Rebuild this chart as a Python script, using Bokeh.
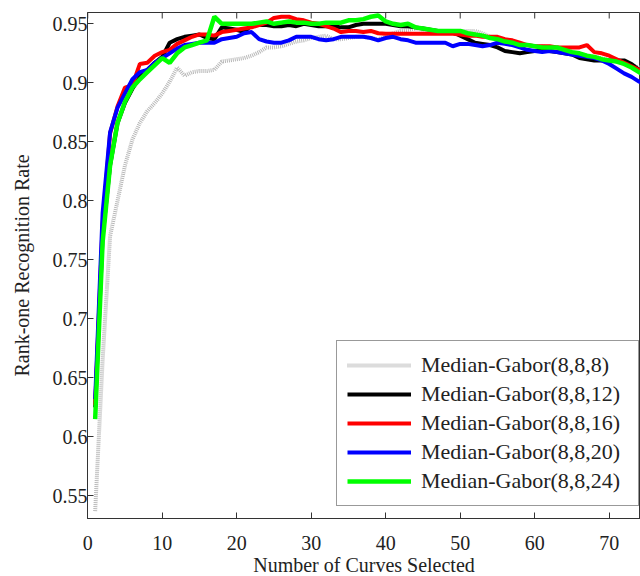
import math
from bokeh.plotting import figure
from bokeh.models import Range1d, FixedTicker, CustomJSTickFormatter, Legend, LegendItem
from bokeh.embed import file_html
from bokeh.resources import INLINE

x = list(range(1, 76))

g8 = [0.537, 0.665, 0.770, 0.800, 0.830, 0.852, 0.866, 0.876, 0.883, 0.891,
      0.901, 0.913, 0.906, 0.909, 0.910, 0.910, 0.911, 0.918, 0.919, 0.920,
      0.921, 0.923, 0.926, 0.930, 0.930, 0.931, 0.933, 0.935, 0.936, 0.938,
      0.939, 0.940, 0.937, 0.937, 0.938, 0.939, 0.939, 0.938, 0.937, 0.939,
      0.942, 0.944, 0.945, 0.946, 0.945, 0.944, 0.944, 0.944, 0.944, 0.944,
      0.944, 0.944, 0.942, 0.939, 0.937, 0.935, 0.934, 0.933, 0.932, 0.931,
      0.931, 0.930, 0.930, 0.928, 0.926, 0.924, 0.923, 0.922, 0.921, 0.919,
      0.918, 0.916, 0.915, 0.913, 0.912]

g12 = [0.625, 0.770, 0.830, 0.866, 0.883, 0.895, 0.905, 0.911, 0.917, 0.922,
       0.934, 0.937, 0.939, 0.940, 0.941, 0.938, 0.937, 0.947, 0.946, 0.945,
       0.943, 0.949, 0.949, 0.949, 0.948, 0.948, 0.949, 0.948, 0.950, 0.949,
       0.948, 0.948, 0.948, 0.947, 0.947, 0.949, 0.950, 0.950, 0.950, 0.950,
       0.949, 0.948, 0.948, 0.947, 0.946, 0.945, 0.944, 0.944, 0.943, 0.940,
       0.937, 0.934, 0.933, 0.932, 0.930, 0.927, 0.926, 0.925, 0.926, 0.927,
       0.927, 0.927, 0.926, 0.925, 0.924, 0.921, 0.920, 0.919, 0.919, 0.919,
       0.919, 0.919, 0.916, 0.911, 0.908]

g16 = [0.627, 0.780, 0.857, 0.880, 0.896, 0.898, 0.916, 0.917, 0.923, 0.926,
       0.928, 0.933, 0.936, 0.939, 0.941, 0.941, 0.940, 0.943, 0.944, 0.945,
       0.946, 0.947, 0.949, 0.951, 0.955, 0.956, 0.956, 0.954, 0.953, 0.951,
       0.950, 0.948, 0.946, 0.943, 0.944, 0.944, 0.943, 0.944, 0.942, 0.9415,
       0.9415, 0.9415, 0.9415, 0.9415, 0.9415, 0.9415, 0.9415, 0.9415, 0.9415, 0.941,
       0.940, 0.940, 0.939, 0.939, 0.939, 0.937, 0.936, 0.934, 0.932, 0.931,
       0.931, 0.931, 0.930, 0.930, 0.930, 0.930, 0.932, 0.926, 0.925, 0.923,
       0.920, 0.917, 0.914, 0.911, 0.909]

g20 = [0.632, 0.790, 0.858, 0.879, 0.891, 0.903, 0.909, 0.911, 0.917, 0.921,
       0.925, 0.929, 0.932, 0.933, 0.934, 0.934, 0.934, 0.937, 0.938, 0.939,
       0.942, 0.943, 0.937, 0.935, 0.934, 0.934, 0.936, 0.939, 0.939, 0.939,
       0.937, 0.936, 0.937, 0.939, 0.939, 0.939, 0.939, 0.938, 0.936, 0.938,
       0.939, 0.937, 0.936, 0.934, 0.934, 0.934, 0.934, 0.934, 0.931, 0.933,
       0.933, 0.932, 0.931, 0.932, 0.934, 0.933, 0.932, 0.930, 0.928, 0.927,
       0.926, 0.927, 0.926, 0.925, 0.924, 0.923, 0.922, 0.921, 0.919, 0.916,
       0.912, 0.908, 0.905, 0.901, 0.899]

g24 = [0.615, 0.765, 0.830, 0.866, 0.884, 0.896, 0.903, 0.909, 0.915, 0.921,
       0.917, 0.925, 0.930, 0.932, 0.934, 0.936, 0.956, 0.950, 0.950, 0.950,
       0.950, 0.950, 0.951, 0.952, 0.950, 0.951, 0.952, 0.951, 0.951, 0.950,
       0.950, 0.951, 0.951, 0.951, 0.953, 0.953, 0.954, 0.956, 0.957, 0.952,
       0.950, 0.949, 0.950, 0.947, 0.946, 0.945, 0.944, 0.944, 0.944, 0.944,
       0.942, 0.941, 0.940, 0.938, 0.937, 0.935, 0.934, 0.932, 0.932, 0.931,
       0.930, 0.930, 0.930, 0.928, 0.926, 0.925, 0.923, 0.922, 0.920, 0.919,
       0.918, 0.916, 0.913, 0.909, 0.906]

labels = ["Median-Gabor(8,8,8)", "Median-Gabor(8,8,12)", "Median-Gabor(8,8,16)",
          "Median-Gabor(8,8,20)", "Median-Gabor(8,8,24)"]
x_ticks = [0, 10, 20, 30, 40, 50, 60, 70]
y_ticks = [0.55, 0.6, 0.65, 0.7, 0.75, 0.8, 0.85, 0.9, 0.95]

X0, X1 = -0.03, 74.2
Y0, Y1 = 0.5308, 0.9596

FONT = "Liberation Serif"
FS = "20px"
AXC = "#333333"

p = figure(frame_width=553, frame_height=506, output_backend="svg", toolbar_location=None,
           x_range=Range1d(X0, X1), y_range=Range1d(Y0, Y1),
           min_border_left=87, min_border_top=12, min_border_right=0, min_border_bottom=58)
p.grid.visible = False
p.outline_line_color = AXC
p.background_fill_color = "white"
p.border_fill_color = "white"

fmt = CustomJSTickFormatter(code="var s = tick.toFixed(2); if (s.endsWith('0')) { s = s.slice(0, -1); } if (s.endsWith('.0')) { s = s.slice(0, -2); } return s;")

for ax in [p.xaxis[0], p.yaxis[0]]:
    ax.major_label_text_font = FONT
    ax.major_label_text_font_size = FS
    ax.major_label_text_color = "#222222"
    ax.axis_label_text_font = FONT
    ax.axis_label_text_font_size = FS
    ax.axis_label_text_font_style = "normal"
    ax.axis_label_text_color = "#222222"
    ax.axis_line_color = AXC
    ax.major_tick_line_color = AXC
    ax.major_tick_in = 6
    ax.major_tick_out = 0
    ax.minor_tick_line_color = None

p.xaxis[0].ticker = FixedTicker(ticks=x_ticks)
p.yaxis[0].ticker = FixedTicker(ticks=y_ticks)
p.yaxis[0].formatter = fmt
p.xaxis[0].axis_label = "Number of Curves Selected"
p.yaxis[0].axis_label = "Rank-one Recognition Rate"
p.xaxis[0].major_label_standoff = 17
p.xaxis[0].axis_label_standoff = 1
p.yaxis[0].major_label_standoff = 0
p.yaxis[0].axis_label_standoff = 17

# inward tick marks along the top edge of the box
p.ray(x=x_ticks, y=[Y1] * len(x_ticks), length=6, length_units="screen",
      angle=-math.pi / 2, line_color=AXC, line_width=1)

r8 = p.line(x, g8, line_color="#b8b8b8", line_width=4, line_dash="1 1")
r12 = p.line(x, g12, line_color="black", line_width=4)
r16 = p.line(x, g16, line_color="#ff0000", line_width=4)
r20 = p.line(x, g20, line_color="#0000ff", line_width=4)
r24 = p.line(x, g24, line_color="#00ff00", line_width=4.5)

legend = Legend(items=[LegendItem(label=l, renderers=[r]) for l, r in
                       zip(labels, [r8, r12, r16, r20, r24])],
                location=(249, 12))
legend.label_text_font = FONT
legend.label_text_font_size = "22px"
legend.label_text_color = "#222222"
legend.glyph_width = 64
legend.glyph_height = 28
legend.label_height = 28
legend.label_width = 207
legend.label_standoff = 10
legend.padding = 10
legend.spacing = 1
legend.margin = 0
legend.border_line_color = AXC
legend.border_line_width = 1
legend.background_fill_alpha = 1
p.add_layout(legend, "center")

open("out.html", "w").write(file_html(p, INLINE))
